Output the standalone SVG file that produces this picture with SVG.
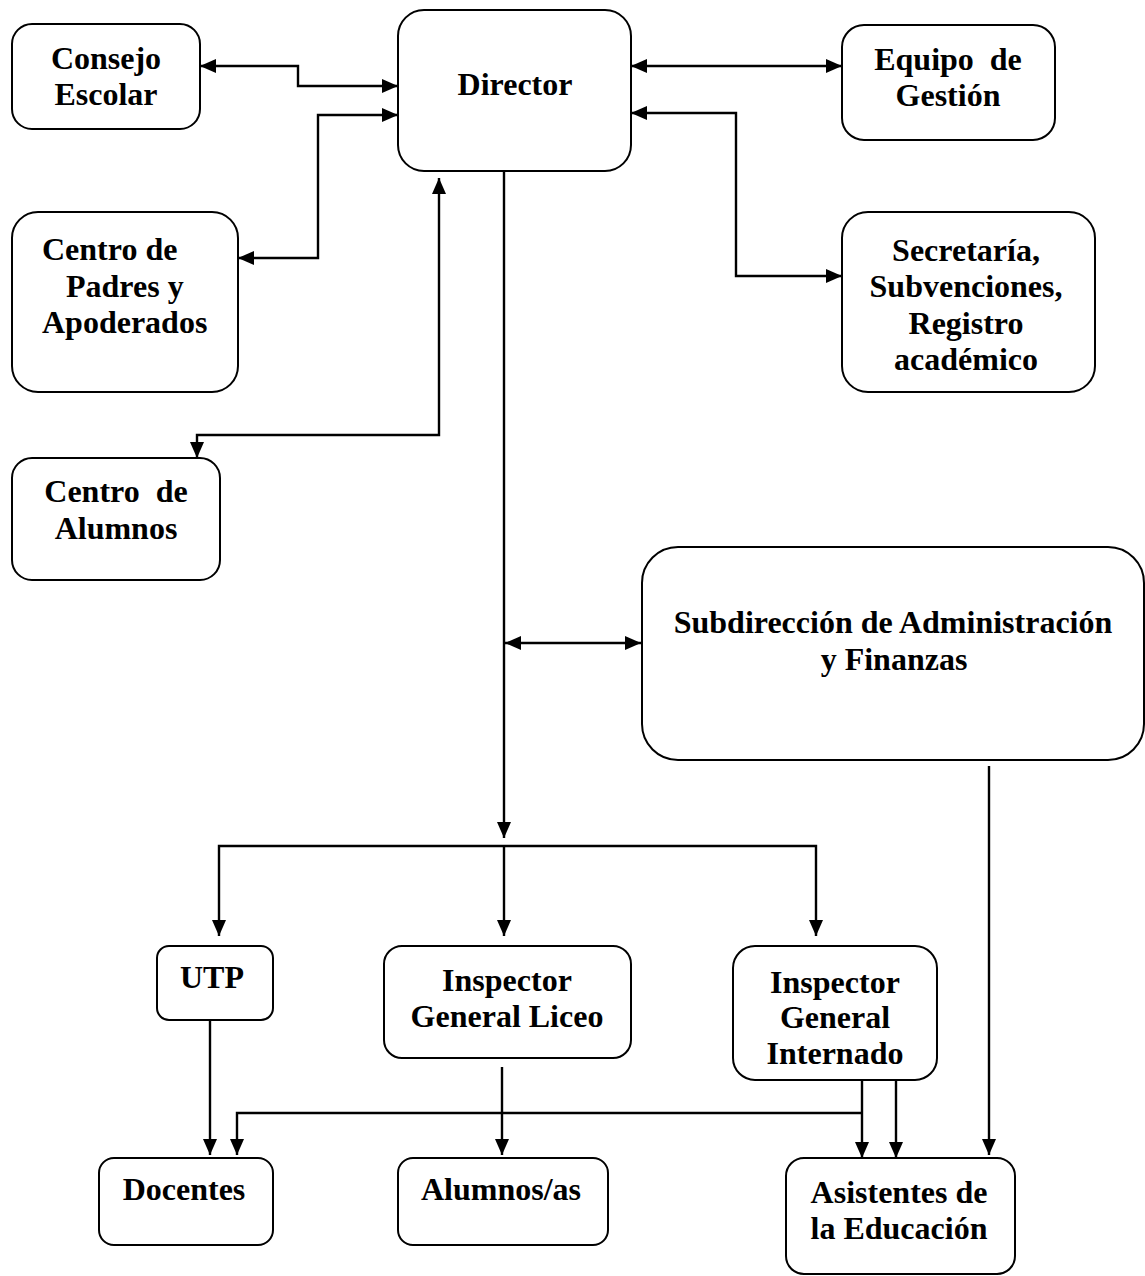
<svg xmlns="http://www.w3.org/2000/svg" width="1145" height="1276" viewBox="0 0 1145 1276">
  <style>
    .box { fill: #ffffff; stroke: #000000; stroke-width: 2; }
    .lbl { font-family: "Liberation Serif", "Times New Roman", serif; font-weight: bold; font-size: 32px; fill: #000000; text-anchor: middle; white-space: pre; }
    .lbl-s { text-anchor: start; }
    .conn { fill: none; stroke: #000000; stroke-width: 2.4; }
    .both { marker-start: url(#arrow); marker-end: url(#arrow); }
    .end { marker-end: url(#arrow); }
  </style>
  <defs>
    <marker id="arrow" markerUnits="userSpaceOnUse" markerWidth="17" markerHeight="16" refX="16" refY="8" orient="auto-start-reverse">
      <path d="M0,1 L16,8 L0,15 z" fill="#000000"/>
    </marker>
    <clipPath id="clipInternado">
      <rect x="735" y="940" width="200" height="125"/>
    </clipPath>
  </defs>
  <rect width="1145" height="1276" fill="#ffffff"/>

  <g id="connectors">
    <path class="conn both" d="M200,66 H298 V86 H398"/>
    <path class="conn both" d="M238,258 H318 V115 H398"/>
    <path class="conn both" d="M439,178 V435 H197 V458"/>
    <path class="conn both" d="M631,66 H842"/>
    <path class="conn both" d="M631,113 H736 V276 H842"/>
    <path class="conn end" d="M504,171 V838"/>
    <path class="conn both" d="M505,643 H641"/>
    <path class="conn both" d="M219,936 V846 H816 V936"/>
    <path class="conn end" d="M504,846 V936"/>
    <path class="conn end" d="M210,1020 V1155"/>
    <path class="conn end" d="M502,1067 V1155"/>
    <path class="conn end" d="M862,1080 V1158"/>
    <path class="conn end" d="M862,1113 H237 V1155"/>
    <path class="conn end" d="M896,1080 V1158"/>
    <path class="conn end" d="M989,766 V1155"/>
  </g>

  <g id="director">
    <rect class="box" x="398" y="10" width="233" height="161" rx="26"/>
    <text class="lbl" x="515" y="95">Director</text>
  </g>
  <g id="consejo">
    <rect class="box" x="12" y="24" width="188" height="105" rx="20"/>
    <text class="lbl" x="106" y="69">Consejo</text>
    <text class="lbl" x="106" y="105">Escolar</text>
  </g>
  <g id="equipo">
    <rect class="box" x="842" y="25" width="213" height="115" rx="22"/>
    <text class="lbl" x="948" y="70">Equipo  de</text>
    <text class="lbl" x="948" y="106">Gestión</text>
  </g>
  <g id="padres">
    <rect class="box" x="12" y="212" width="226" height="180" rx="26"/>
    <text class="lbl lbl-s" x="42" y="260">Centro de</text>
    <text class="lbl lbl-s" x="66" y="297">Padres y</text>
    <text class="lbl lbl-s" x="42" y="333">Apoderados</text>
  </g>
  <g id="secretaria">
    <rect class="box" x="842" y="212" width="253" height="180" rx="26"/>
    <text class="lbl" x="966" y="261">Secretaría,</text>
    <text class="lbl" x="966" y="297">Subvenciones,</text>
    <text class="lbl" x="966" y="334">Registro</text>
    <text class="lbl" x="966" y="370">académico</text>
  </g>
  <g id="alumnos-centro">
    <rect class="box" x="12" y="458" width="208" height="122" rx="20"/>
    <text class="lbl" x="116" y="502">Centro  de</text>
    <text class="lbl" x="116" y="539">Alumnos</text>
  </g>
  <g id="subdireccion">
    <rect class="box" x="642" y="547" width="502" height="213" rx="36"/>
    <text class="lbl" x="893" y="633">Subdirección de Administración</text>
    <text class="lbl" x="894" y="670">y Finanzas</text>
  </g>
  <g id="utp">
    <rect class="box" x="157" y="946" width="116" height="74" rx="12"/>
    <text class="lbl" x="212" y="988">UTP</text>
  </g>
  <g id="liceo">
    <rect class="box" x="384" y="946" width="247" height="112" rx="18"/>
    <text class="lbl" x="507" y="991">Inspector</text>
    <text class="lbl" x="507" y="1027">General Liceo</text>
  </g>
  <g id="internado">
    <rect class="box" x="733" y="946" width="204" height="134" rx="22"/>
    <text class="lbl" x="835" y="993">Inspector</text>
    <text class="lbl" x="835" y="1028">General</text>
    <text class="lbl" x="835" y="1064" clip-path="url(#clipInternado)">Internado</text>
  </g>
  <g id="docentes">
    <rect class="box" x="99" y="1158" width="174" height="87" rx="15"/>
    <text class="lbl" x="184" y="1200">Docentes</text>
  </g>
  <g id="alumnos">
    <rect class="box" x="398" y="1158" width="210" height="87" rx="15"/>
    <text class="lbl" x="501" y="1200">Alumnos/as</text>
  </g>
  <g id="asistentes">
    <rect class="box" x="786" y="1158" width="229" height="116" rx="18"/>
    <text class="lbl" x="899" y="1203">Asistentes de</text>
    <text class="lbl" x="899" y="1239">la Educación</text>
  </g>
</svg>
